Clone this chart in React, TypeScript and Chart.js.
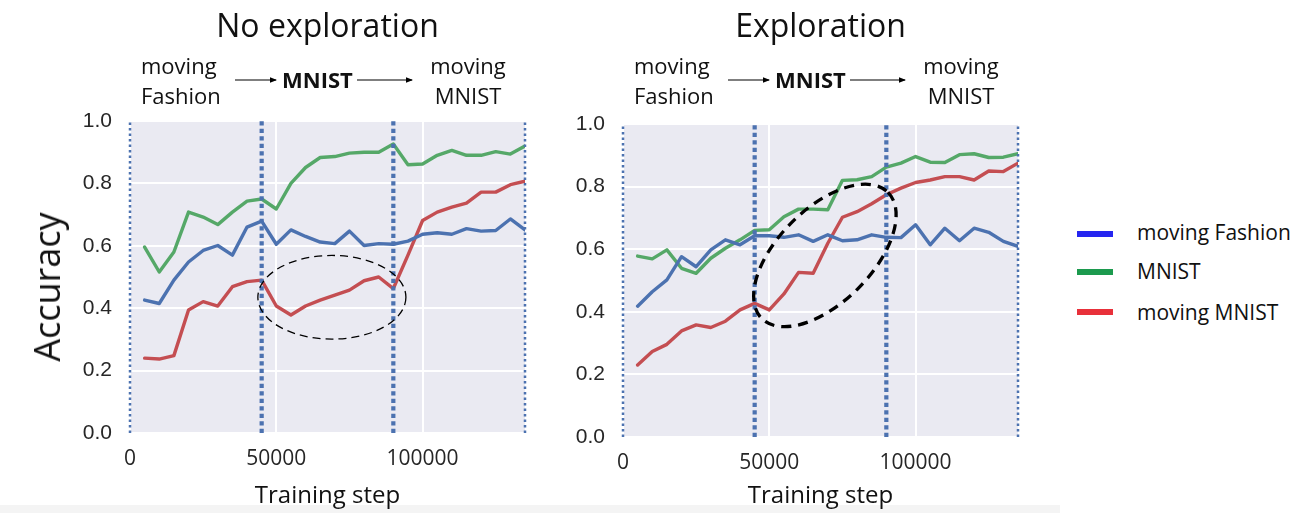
import React, { useEffect, useRef } from "react";
import { Chart, registerables } from "chart.js";

Chart.register(...registerables);

// ---------- data ----------
const trainingSteps = [
  5000, 10000, 15000, 20000, 25000, 30000, 35000, 40000, 45000, 50000,
  55000, 60000, 65000, 70000, 75000, 80000, 85000, 90000, 95000, 100000,
  105000, 110000, 115000, 120000, 125000, 130000, 135000,
];

const noExpMovingFashion = [
  0.426, 0.415, 0.49, 0.548, 0.585, 0.601, 0.57, 0.66, 0.679, 0.605,
  0.651, 0.63, 0.612, 0.607, 0.647, 0.601, 0.607, 0.605, 0.615, 0.637,
  0.642, 0.637, 0.655, 0.647, 0.649, 0.686, 0.651,
];
const noExpMnist = [
  0.596, 0.516, 0.58, 0.708, 0.692, 0.668, 0.708, 0.743, 0.75, 0.718,
  0.8, 0.851, 0.883, 0.886, 0.897, 0.9, 0.9, 0.926, 0.86, 0.862,
  0.89, 0.906, 0.89, 0.89, 0.902, 0.894, 0.92,
];
const noExpMovingMnist = [
  0.24, 0.237, 0.248, 0.394, 0.421, 0.407, 0.469, 0.485, 0.49, 0.407,
  0.378, 0.407, 0.426, 0.442, 0.458, 0.488, 0.5, 0.463, 0.57, 0.681,
  0.708, 0.724, 0.737, 0.772, 0.772, 0.796, 0.807,
];

const expMovingFashion = [
  0.418, 0.464, 0.502, 0.576, 0.544, 0.598, 0.63, 0.614, 0.643, 0.643,
  0.638, 0.646, 0.625, 0.646, 0.627, 0.63, 0.646, 0.638, 0.637, 0.678,
  0.614, 0.667, 0.627, 0.667, 0.654, 0.625, 0.609,
];
const expMnist = [
  0.578, 0.569, 0.598, 0.539, 0.523, 0.571, 0.603, 0.63, 0.66, 0.662,
  0.704, 0.728, 0.728, 0.726, 0.82, 0.822, 0.832, 0.862, 0.875, 0.896,
  0.878, 0.877, 0.902, 0.905, 0.893, 0.894, 0.905,
];
const expMovingMnist = [
  0.23, 0.273, 0.296, 0.339, 0.358, 0.35, 0.37, 0.406, 0.427, 0.406,
  0.457, 0.526, 0.523, 0.619, 0.702, 0.72, 0.745, 0.774, 0.795, 0.813,
  0.821, 0.832, 0.832, 0.821, 0.85, 0.848, 0.875,
];

const phaseBoundaries = [0, 45000, 90000, 135000];
const xTickValues = [0, 50000, 100000];
const yTickValues = [0, 0.2, 0.4, 0.6, 0.8, 1.0];

const seriesNames = ["moving Fashion", "MNIST", "moving MNIST"];
const lineColors = ["#4C72B0", "#55A868", "#C44E52"];
const legendColors = ["#2525F0", "#1C9A4E", "#E8303A"];

const panelTitles = ["No exploration", "Exploration"];
const taskSequence = ["moving\nFashion", "MNIST", "moving\nMNIST"];

// ellipse highlights (centre in data units, radii in axis units)
const noExpEllipse = { cx: 69000, cy: 0.435, rx: 25300, ry: 0.134 };
const expEllipse = { cx: 69000, cy: 0.58, semiMajorX: 30500, semiMinorX: 16000, angleDeg: -45 };

// ---------- chart panel ----------
type PanelProps = {
  series: number[][];
  ellipseKind: "axis" | "rotated";
  left: number;
  width: number;
  yAxisWidth: number;
  padTop: number;
  padRight: number;
  xAxisHeight: number;
};

function Panel(props: PanelProps) {
  const ref = useRef<HTMLCanvasElement | null>(null);
  useEffect(() => {
    const canvas = ref.current;
    if (!canvas) return;

    const bgPlugin = {
      id: "bg",
      beforeDraw(chart: any) {
        const { ctx, chartArea } = chart;
        ctx.save();
        ctx.fillStyle = "#EAEAF2";
        ctx.fillRect(chartArea.left, chartArea.top, chartArea.right - chartArea.left, chartArea.bottom - chartArea.top);
        ctx.restore();
      },
    };

    const ellipsePlugin = {
      id: "ellipse",
      afterDatasetsDraw(chart: any) {
        const { ctx } = chart;
        const xs = chart.scales.x;
        const ys = chart.scales.y;
        ctx.save();
        ctx.strokeStyle = "#000";
        ctx.beginPath();
        if (props.ellipseKind === "axis") {
          const e = noExpEllipse;
          const cx = xs.getPixelForValue(e.cx);
          const cy = ys.getPixelForValue(e.cy);
          const rx = xs.getPixelForValue(e.cx + e.rx) - cx;
          const ry = cy - ys.getPixelForValue(e.cy + e.ry);
          ctx.lineWidth = 1.3;
          ctx.setLineDash([8, 5]);
          ctx.ellipse(cx, cy, rx, ry, 0, 0, Math.PI * 2);
        } else {
          const e = expEllipse;
          const cx = xs.getPixelForValue(e.cx);
          const cy = ys.getPixelForValue(e.cy);
          const a = xs.getPixelForValue(e.cx + e.semiMajorX) - cx;
          const b = xs.getPixelForValue(e.cx + e.semiMinorX) - cx;
          ctx.lineWidth = 3.3;
          ctx.setLineDash([10, 7]);
          ctx.ellipse(cx, cy, a, b, (e.angleDeg * Math.PI) / 180, 0, Math.PI * 2);
        }
        ctx.stroke();
        ctx.restore();
      },
    };

    const boundarySets = phaseBoundaries.map((b, i) => {
      const edge = i === 0 || i === phaseBoundaries.length - 1;
      return {
        label: "boundary" + i,
        data: [
          { x: b, y: 0 },
          { x: b, y: 1 },
        ],
        borderColor: "#4C72B0",
        borderWidth: edge ? 2.5 : 4.2,
        borderDash: edge ? [2.5, 3] : [4.2, 3.3],
        pointRadius: 0,
        fill: false,
        clip: 3,
      };
    });

    const lineSets = props.series.map((vals, i) => ({
      label: seriesNames[i],
      data: trainingSteps.map((s, j) => ({ x: s, y: vals[j] })),
      borderColor: lineColors[i],
      borderWidth: 3.4,
      pointRadius: 0,
      fill: false,
      tension: 0,
      borderJoinStyle: "round",
      borderCapStyle: "round",
    }));

    const chart = new Chart(canvas, {
      type: "line",
      data: { datasets: [...boundarySets, ...lineSets] as any },
      options: {
        responsive: false,
        animation: false,
        layout: { padding: { top: props.padTop, right: props.padRight, left: 0, bottom: 0 } },
        plugins: { legend: { display: false }, tooltip: { enabled: false } },
        scales: {
          x: {
            type: "linear",
            min: 0,
            max: 135000,
            afterFit: (s: any) => {
              s.height = props.xAxisHeight;
            },
            afterBuildTicks: (s: any) => {
              s.ticks = xTickValues.map((v) => ({ value: v }));
            },
            ticks: {
              callback: (v: any) => String(v),
              font: { family: "Open Sans", size: 21 },
              color: "#262626",
              padding: 13,
              maxRotation: 0,
              autoSkip: false,
            },
            grid: { color: "#FFFFFF", lineWidth: 2, drawTicks: false },
            border: { display: false },
            title: {
              display: true,
              text: "Training step",
              font: { family: "Open Sans", size: 24 },
              color: "#111111",
              padding: { top: 0, bottom: 2 },
            },
          },
          y: {
            type: "linear",
            min: 0,
            max: 1,
            afterFit: (s: any) => {
              s.width = props.yAxisWidth;
            },
            afterBuildTicks: (s: any) => {
              s.ticks = yTickValues.map((v) => ({ value: v }));
            },
            ticks: {
              callback: (v: any) => Number(v).toFixed(1),
              font: { family: "Liberation Sans", size: 21 },
              color: "#262626",
              padding: 18,
            },
            grid: { color: "#FFFFFF", lineWidth: 2, drawTicks: false },
            border: { display: false },
          },
        },
      },
      plugins: [bgPlugin, ellipsePlugin],
    } as any);
    return () => chart.destroy();
  }, []);

  return (
    <canvas
      ref={ref}
      width={props.width}
      height={513}
      style={{ position: "absolute", left: props.left, top: 0, width: props.width, height: 513 }}
    />
  );
}

function Arrow({ x1, x2, y }: { x1: number; x2: number; y: number }) {
  return (
    <svg style={{ position: "absolute", left: x1, top: y - 5, overflow: "visible" }} width={x2 - x1} height={10}>
      <line x1={0} y1={5} x2={x2 - x1 - 1} y2={5} stroke="#000" strokeWidth={1.1} />
      <polygon points={`${x2 - x1},5 ${x2 - x1 - 7},2.3 ${x2 - x1 - 7},7.7`} fill="#000" />
    </svg>
  );
}

function Header({ plotLeft, plotCenter, title }: { plotLeft: number; plotCenter: number; title: string }) {
  const base: React.CSSProperties = {
    position: "absolute",
    fontFamily: "Open Sans",
    color: "#111",
    whiteSpace: "pre",
  };
  const [first, mid, last] = taskSequence;
  return (
    <>
      <div style={{ ...base, left: plotCenter, top: 9, fontSize: 32, lineHeight: "32px", transform: "translateX(-50%)" }}>
        {title}
      </div>
      <div style={{ ...base, left: plotLeft + 11, top: 50, fontSize: 22, lineHeight: "30px" }}>{first}</div>
      <Arrow x1={plotLeft + 105} x2={plotLeft + 147} y={80} />
      <div style={{ ...base, left: plotLeft + 152, top: 68, fontSize: 22, lineHeight: "22px", fontWeight: 700 }}>{mid}</div>
      <Arrow x1={plotLeft + 227} x2={plotLeft + 283} y={80} />
      <div
        style={{
          ...base,
          left: plotLeft + 338,
          top: 50,
          fontSize: 22,
          lineHeight: "30px",
          textAlign: "center",
          transform: "translateX(-50%)",
        }}
      >
        {last}
      </div>
    </>
  );
}

export default function App() {
  return (
    <div
      style={{
        position: "absolute",
        left: 0,
        top: 0,
        width: 1297,
        height: 513,
        background: "#FFFFFF",
        overflow: "hidden",
      }}
    >
      <div style={{ position: "absolute", left: 0, top: 505, width: 1060, height: 8, background: "#F4F4F4" }} />
      <Panel
        series={[noExpMovingFashion, noExpMnist, noExpMovingMnist]}
        ellipseKind="axis"
        left={0}
        width={545}
        yAxisWidth={130}
        padTop={121}
        padRight={20}
        xAxisHeight={80}
      />
      <Panel
        series={[expMovingFashion, expMnist, expMovingMnist]}
        ellipseKind="rotated"
        left={520}
        width={520}
        yAxisWidth={103}
        padTop={124}
        padRight={22}
        xAxisHeight={76}
      />
      <Header plotLeft={130} plotCenter={327.5} title={panelTitles[0]} />
      <Header plotLeft={623} plotCenter={820.5} title={panelTitles[1]} />
      <div
        style={{
          position: "absolute",
          left: 47,
          top: 287,
          fontFamily: "Open Sans",
          fontSize: 36,
          lineHeight: "36px",
          color: "#111",
          whiteSpace: "nowrap",
          transform: "translate(-50%, -50%) rotate(-90deg)",
        }}
      >
        Accuracy
      </div>
      {seriesNames.map((name, i) => (
        <React.Fragment key={name}>
          <div
            style={{
              position: "absolute",
              left: 1077,
              top: [234, 272, 312][i] - 3,
              width: 36,
              height: 6,
              background: legendColors[i],
            }}
          />
          <div
            style={{
              position: "absolute",
              left: 1137,
              top: [233, 272, 313][i] - 11.2,
              fontFamily: "Open Sans",
              fontSize: 21,
              lineHeight: "21px",
              color: "#111",
              whiteSpace: "nowrap",
            }}
          >
            {name}
          </div>
        </React.Fragment>
      ))}
    </div>
  );
}
